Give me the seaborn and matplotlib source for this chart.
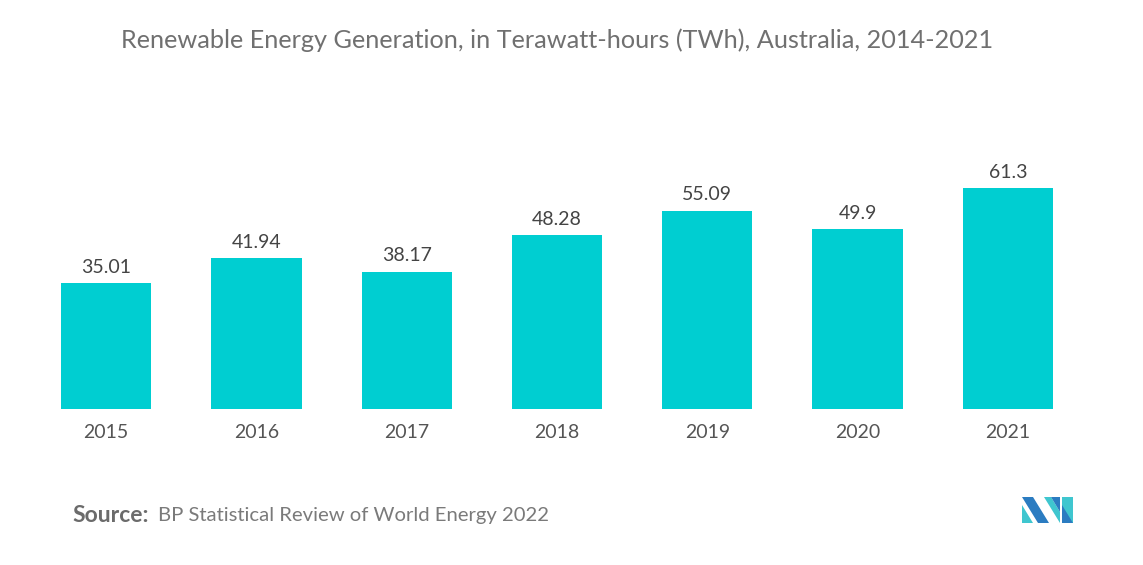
import matplotlib
matplotlib.use("Agg")
import matplotlib.pyplot as plt
import seaborn as sns
import pandas as pd
from matplotlib.patches import Polygon

years = ["2015", "2016", "2017", "2018", "2019", "2020", "2021"]
values = [35.01, 41.94, 38.17, 48.28, 55.09, 49.9, 61.3]
value_labels = ["35.01", "41.94", "38.17", "48.28", "55.09", "49.9", "61.3"]

title = "Renewable Energy Generation, in Terawatt-hours (TWh), Australia, 2014-2021"
source_label = "Source:"
source_text = "BP Statistical Review of World Energy 2022"

sns.set_style("white")
plt.rcParams["font.family"] = ["Lato", "DejaVu Sans"]

df = pd.DataFrame({"year": years, "value": values})

fig = plt.figure(figsize=(11.43, 5.65), dpi=100)
ax = fig.add_axes([31 / 1143, (565 - 409) / 565, (1083 - 31) / 1143, 0.446])

sns.barplot(data=df, x="year", y="value", color="#00CED1", saturation=1,
            width=0.6, ax=ax, edgecolor="none")
ax.set_xlim(-0.5, 6.5)
ax.set_ylim(0, 70)

for i, (v, lab) in enumerate(zip(values, value_labels)):
    ax.text(i, v + 2.0, lab, ha="center", va="bottom", fontsize=14, color="#444444")

for s in ax.spines.values():
    s.set_visible(False)
ax.set_yticks([])
ax.set_xlabel("")
ax.set_ylabel("")
ax.tick_params(axis="x", length=0, labelsize=14, labelcolor="#555555", pad=11)

fig.text(557 / 1143, 1 - 40 / 565, title, ha="center", va="center", fontsize=18.2, color="#707070")
fig.text(72 / 1143, 1 - 516 / 565, source_label, ha="left", va="center", fontsize=16.5,
         color="#6b6b6b", fontweight="bold")
fig.text(158 / 1143, 1 - 516 / 565, source_text, ha="left", va="center", fontsize=14.6,
         color="#7a7a7a")

# logo
def P(pts, c):
    fig.patches.append(Polygon([(x / 1143, 1 - y / 565) for x, y in pts], closed=True,
                               transform=fig.transFigure, facecolor=c, edgecolor="none"))

dark = "#2b7cc1"
teal = "#3fc6cf"
P([(1022, 497), (1033, 497), (1049, 523), (1038, 523)], dark)
P([(1022, 505), (1033, 523), (1022, 523)], teal)
P([(1044, 497), (1051, 497), (1060, 512), (1060, 523)], teal)
P([(1051, 497), (1060, 497), (1060, 512)], dark)
P([(1062, 497), (1073, 497), (1073, 523), (1062, 523)], teal)
P([(1062, 505), (1073, 523), (1062, 523)], dark)

fig.savefig("out.png", dpi=100, facecolor="white")
